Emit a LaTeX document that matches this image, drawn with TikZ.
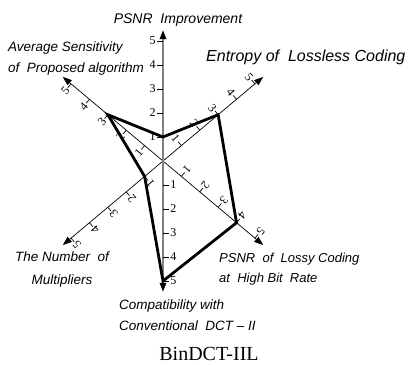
\documentclass[tikz,border=0pt]{standalone}
\usepackage{fontspec}
\setmainfont{Liberation Serif}
\setsansfont{Liberation Sans}
\usepackage{tikz}
\usetikzlibrary{arrows.meta, positioning}
\tikzset{axisline/.style = {draw=black,line width=0.7pt,
		{Triangle[length=9pt,width=6.5pt,color=black]}-{Triangle[length=9pt,width=6.5pt,color=black]}},
	mainaxis/.style = {axisline,draw=gray,line width=1.8pt},
	tickmark/.style = {draw=black,line width=0.7pt},
	ticklab/.style = {font=\fontsize{12}{12}\selectfont,inner sep=1pt},
	axislab/.style = {font=\fontsize{13.5}{21}\selectfont\sffamily\itshape,inner sep=0pt},
	valueline/.style = {draw=black,line width=2.8pt,line join=miter}}
\newcommand{\runit}{24}

\begin{document}
\begin{tikzpicture}[x=1pt,y=1pt]
\useasboundingbox (0,0) rectangle (408,365);
\coordinate (o) at (163,204);
% axis ends
\foreach \ang/\name in {90/t,40/ur,-40/dr,270/b,220/dl,140/ul}
	\path (o) ++(\ang:5.45*\runit) coordinate (ax-\name);
\draw[axisline] (ax-ul) -- (ax-dr);
\draw[axisline] (ax-ur) -- (ax-dl);
% ticks on the diagonals
\foreach \ang in {40,-40,220,140}
	\foreach \k in {1,...,5}{
		\draw[tickmark] (o) ++(\ang:\k*\runit) -- ++(\ang+90:5);
		\path (o) ++(\ang:\k*\runit) ++(\ang+90:9) node[ticklab,rotate=\ang-90] {\k};
	}
\draw[mainaxis] (ax-b) -- (ax-t);
% ticks on the vertical axis
\foreach \k in {1,...,5}{
	\draw[tickmark] (o) ++(0,\k*\runit) -- ++(-6,0) node[ticklab,left] {\k};
	\draw[tickmark] (o) ++(0,-\k*\runit) -- ++(6,0) node[ticklab,right] {\k};
}
% values
\foreach \ang/\v/\name in {90/1/p1,40/3/p2,-40/4/p3,270/5/p4,220/1/p5,140/3/p6}
	\path (o) ++(\ang:\v*\runit) coordinate (\name);
\draw[valueline] (p1) -- (p2) -- (p3) -- (p4) -- (p5) -- (p6) -- cycle;
% axis names
\node[axislab,font=\fontsize{14}{16}\selectfont\sffamily\itshape] (psnr) at (178,345) {PSNR\ \ Improvement};
\node[axislab,anchor=west,align=left] (sens) at (8,306) {Average Sensitivity\\of\ \ Proposed algorithm};
\node[axislab,anchor=west,font=\fontsize{16}{18}\selectfont\sffamily\itshape] (entr) at (206,308) {Entropy of\ \ Lossless Coding};
\node[axislab,anchor=west,align=left,font=\fontsize{13}{20}\selectfont\sffamily\itshape] (lossy) at (219,96) {PSNR\ \ of\ \ Lossy Coding\\at\ \ High Bit\ \ Rate};
\node[axislab,align=center,font=\fontsize{13.5}{23}\selectfont\sffamily\itshape] (mult) at (62,95.5) {The Number\ \ of\\Multipliers};
\node[axislab,anchor=west,align=left] (compat) at (119,49.5) {Compatibility with\\Conventional\ \ DCT\ – II};
\node[font=\fontsize{20}{22}\selectfont,inner sep=0pt] (title) at (209,11) {BinDCT-IIL};
\end{tikzpicture}
\end{document}
